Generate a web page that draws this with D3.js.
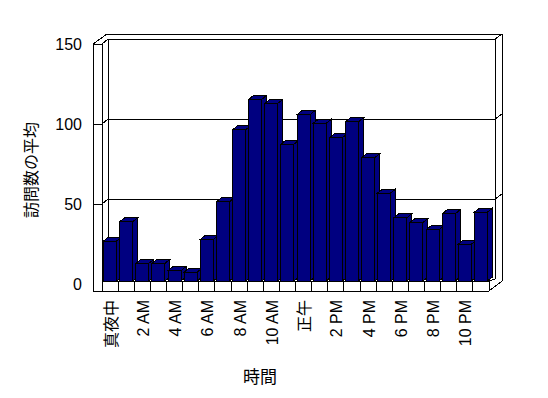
<!DOCTYPE html>
<html>
<head>
<meta charset="utf-8">
<script src="https://cdn.jsdelivr.net/npm/d3@7"></script>
<style>
  html, body { margin: 0; padding: 0; background: #fff; }
  svg { display: block; }
  text { font-family: "Liberation Sans", Arial, "Noto Sans CJK JP", sans-serif; fill: #000; }
</style>
</head>
<body>
<svg id="chart" width="548" height="398"></svg>
<script>
// ---- data ----
const categories = ["真夜中","1 AM","2 AM","3 AM","4 AM","5 AM","6 AM","7 AM","8 AM","9 AM","10 AM","11 AM",
                    "正午","1 PM","2 PM","3 PM","4 PM","5 PM","6 PM","7 PM","8 PM","9 PM","10 PM","11 PM"];
const values = [25, 37, 11, 11, 6.5, 5.5, 26, 49.5, 94.5, 113.5, 111, 85.5,
                104, 98.5, 89.5, 99.5, 77, 55, 39.5, 36.5, 32, 42, 23, 43];
const yTicks = [0, 50, 100, 150];
const xTickLabels = ["真夜中","2 AM","4 AM","6 AM","8 AM","10 AM","正午","2 PM","4 PM","6 PM","8 PM","10 PM"];
const yTitle = "訪問数の平均";
const xTitle = "時間";

// ---- layout ----
const svg = d3.select("#chart");
const g = svg.append("g").attr("shape-rendering", "crispEdges");

const X0 = 102, X1 = 489;           // category range on the front plane
const wallDX = 6, wallDY = -5;      // front plane -> back wall front face
const outDX = 13, outDY = -10;      // front plane -> back of walls
const barDX = 5, barDY = -4;        // bar depth
const floorTop = 281, floorBot = 291;
const leftOuter = 93;

const x = d3.scaleBand().domain(categories).range([X0, X1]).paddingInner(0).paddingOuter(0);
const yBack = d3.scaleLinear().domain([0, 150]).range([279, 39]);       // back wall
const yFront = yBack.copy().range([279 - wallDY, 39 - wallDY]);          // left wall front face
const yBar = yBack.copy().range([floorTop, 41]);                         // bar front faces

const line = (pts) => "M" + pts.map(p => p.join(",")).join("L");

const bx0 = X0 + wallDX, bx1 = X1 + wallDX; // back wall front face x extents
const topB = yBack(150), topF = yFront(150);

// outer outline of walls + floor
g.append("path")
  .attr("d", line([[leftOuter, topF], [bx0 - 1, topB + (outDY - wallDY)],
                   [X1 + outDX, topB + (outDY - wallDY)], [X1 + outDX, floorBot + outDY],
                   [X1, floorBot], [leftOuter, floorBot]]) + "Z")
  .attr("fill", "#fff").attr("stroke", "#000");

// inner edges
const edges = [
  [[leftOuter, topF], [X0, topF]],
  [[X0, topF], [bx0, topB]],
  [[bx0, topB], [bx1, topB]],
  [[bx1, topB], [X1 + outDX, topB + (outDY - wallDY)]],
  [[X0, topF], [X0, floorTop]],
  [[bx0, topB], [bx0, yBack(0)]],
  [[bx1, topB], [bx1, yBack(0)]],
  [[X0, floorTop], [X1, floorTop]],
  [[X1, floorTop], [bx1, yBack(0)]],
  [[X1, floorTop], [X1, floorBot]]
];
g.selectAll("path.edge").data(edges).join("path").attr("class", "edge")
  .attr("d", d => line(d)).attr("fill", "none").attr("stroke", "#000");

// gridlines (wrapping around the walls)
g.selectAll("path.grid").data(yTicks.filter(v => v > 0 && v < 150)).join("path").attr("class", "grid")
  .attr("d", v => line([[leftOuter, yFront(v)], [X0, yFront(v)], [bx0, yBack(v)], [bx1, yBack(v)],
                        [X1 + outDX, yBack(v) + (outDY - wallDY)]]))
  .attr("fill", "none").attr("stroke", "#000");

// floor cells
g.selectAll("line.cell").data(d3.range(categories.length + 1)).join("line").attr("class", "cell")
  .attr("x1", i => X0 + i * x.step()).attr("x2", i => X0 + i * x.step())
  .attr("y1", floorTop).attr("y2", floorBot).attr("stroke", "#000");

// bars
const barW = 13, barOff = 1.5;
const bars = g.selectAll("g.bar").data(categories.map((c, i) => ({ c, v: values[i] }))).join("g").attr("class", "bar");
bars.each(function(d) {
  const s = d3.select(this);
  const xl = x(d.c) + barOff, xr = xl + barW, yt = yBar(d.v), yb = yBar(0);
  s.append("path").attr("d", line([[xr, yt], [xr + barDX, yt + barDY], [xr + barDX, yb + barDY], [xr, yb]]) + "Z")
    .attr("fill", "#000080").attr("stroke", "#000");
  s.append("path").attr("d", line([[xl, yt], [xl + barDX, yt + barDY], [xr + barDX, yt + barDY], [xr, yt]]) + "Z")
    .attr("fill", "#000080").attr("stroke", "#000");
  s.append("rect").attr("x", xl).attr("y", yt).attr("width", barW).attr("height", yb - yt)
    .attr("fill", "#000080").attr("stroke", "#000");
});

// y axis labels
const yAxis = d3.axisLeft(yFront).tickValues(yTicks).tickSize(0).tickPadding(11).tickFormat(d3.format("d"));
svg.append("g").attr("transform", `translate(${leftOuter},0)`).call(yAxis)
  .call(a => a.select(".domain").remove())
  .selectAll("text").attr("font-size", 16).attr("font-family", "'Liberation Sans', Arial, sans-serif");

// x axis labels
const xAxis = d3.axisBottom(x).tickValues(xTickLabels).tickSize(0);
svg.append("g").attr("transform", `translate(1,${floorBot})`).call(xAxis)
  .call(a => a.select(".domain").remove())
  .selectAll("text")
  .attr("font-size", 16)
  .attr("font-family", "'Liberation Sans', Arial, 'Noto Sans CJK JP', sans-serif")
  .attr("transform", "rotate(-90)")
  .attr("text-anchor", "end")
  .attr("x", -9).attr("y", 0).attr("dy", "0.35em");

// titles
svg.append("text").attr("x", 260).attr("y", 377).attr("text-anchor", "middle").attr("dominant-baseline", "central")
  .attr("font-size", 17).attr("font-family", "'Noto Sans CJK JP', sans-serif").text(xTitle);
svg.append("text").attr("transform", "translate(31,170) rotate(-90)").attr("text-anchor", "middle")
  .attr("dominant-baseline", "central")
  .attr("font-size", 16).attr("font-family", "'Noto Sans CJK JP', sans-serif").text(yTitle);
</script>
</body>
</html>
